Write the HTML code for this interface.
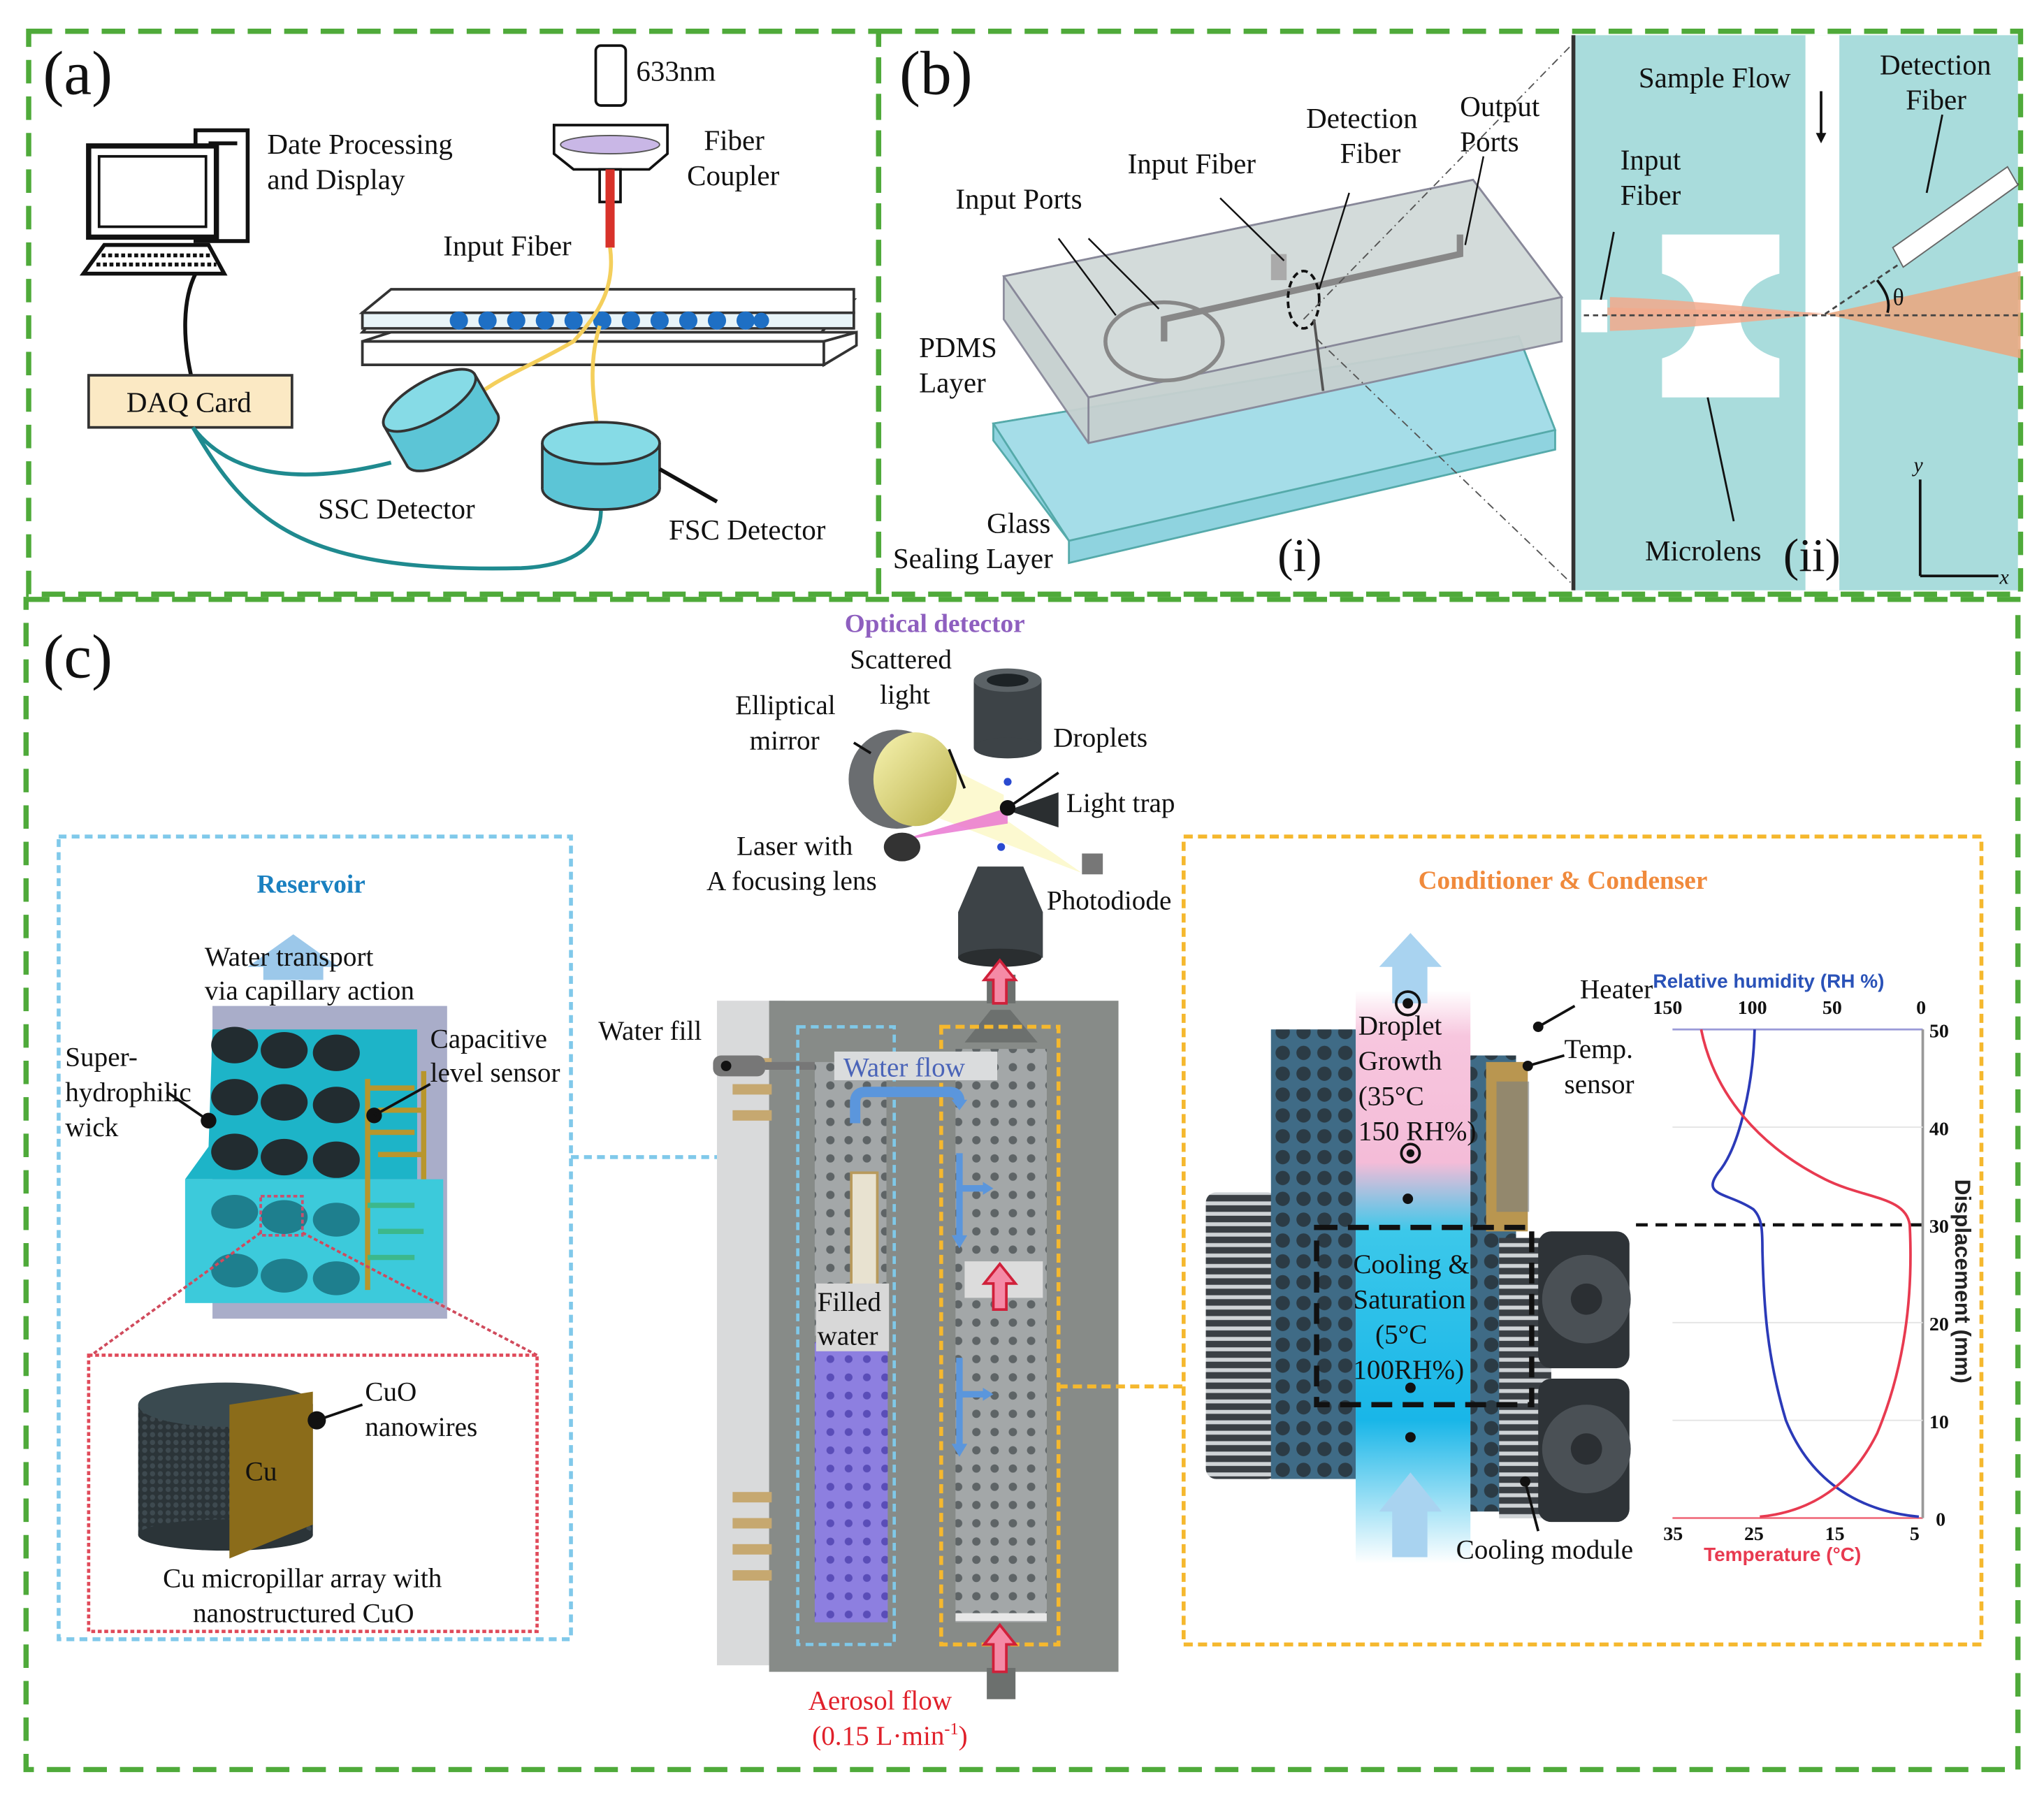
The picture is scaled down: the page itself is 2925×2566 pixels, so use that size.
<!DOCTYPE html>
<html><head><meta charset="utf-8"><style>
html,body{margin:0;padding:0;background:#fff}
svg{display:block}
text{font-family:"Liberation Serif",serif;fill:#111}
.s{font-family:"Liberation Sans",sans-serif;font-weight:bold}
</style></head><body>
<svg width="2925" height="2566" viewBox="0 0 1568 1376" preserveAspectRatio="none" xmlns="http://www.w3.org/2000/svg">
<defs>
<pattern id="dots" x="0" y="0" width="14" height="14" patternUnits="userSpaceOnUse"><rect width="14" height="14" fill="#a3a7a8"/><circle cx="7" cy="7" r="3.2" fill="#5e6466"/></pattern>
<pattern id="dotsP" x="0" y="0" width="14" height="14" patternUnits="userSpaceOnUse"><rect width="14" height="14" fill="#8d7fe0"/><circle cx="7" cy="7" r="3" fill="#5a4db8"/></pattern>
<pattern id="sink" x="0" y="0" width="16" height="16" patternUnits="userSpaceOnUse"><rect width="16" height="16" fill="#3f6b86"/><circle cx="8" cy="8" r="5.5" fill="#2b3b45"/></pattern>
<pattern id="fins" x="0" y="0" width="8" height="8" patternUnits="userSpaceOnUse"><rect width="8" height="8" fill="#3a3f44"/><rect x="0" y="2" width="8" height="3" fill="#cfd3d6"/></pattern>
<pattern id="mesh" x="0" y="0" width="6" height="6" patternUnits="userSpaceOnUse"><rect width="6" height="6" fill="#2b3438"/><circle cx="3" cy="3" r="2" fill="#3e4a50"/></pattern>
<linearGradient id="col" x1="0" y1="0" x2="0" y2="1"><stop offset="0" stop-color="#fff"/><stop offset="0.08" stop-color="#f7c6de"/><stop offset="0.3" stop-color="#f4bcd8"/><stop offset="0.42" stop-color="#3cc8ea"/><stop offset="0.75" stop-color="#19b6e8"/><stop offset="1" stop-color="#fff"/></linearGradient>
<linearGradient id="mir" x1="0" y1="0" x2="1" y2="1"><stop offset="0" stop-color="#f7f3b0"/><stop offset="1" stop-color="#b9b04a"/></linearGradient>
</defs>

<!-- green dashed frames -->
<g fill="none" stroke="#4faa3a" stroke-width="4" stroke-dasharray="18,10">
<rect x="22" y="24" width="652" height="432"/>
<rect x="674" y="24" width="876" height="432"/>
<rect x="20" y="460" width="1528" height="898"/>
</g>

<!-- ================= Panel (a) ================= -->
<text x="33" y="72" font-size="48">(a)</text>
<!-- computer -->
<rect x="150" y="100" width="40" height="85" fill="#fff" stroke="#111" stroke-width="3"/>
<line x1="160" y1="110" x2="182" y2="110" stroke="#111" stroke-width="3"/>
<rect x="68" y="112" width="98" height="70" fill="#fff" stroke="#111" stroke-width="4"/>
<rect x="76" y="120" width="82" height="54" fill="#fff" stroke="#111" stroke-width="2"/>
<polygon points="80,188 160,188 172,210 64,210" fill="#fff" stroke="#111" stroke-width="3"/>
<line x1="78" y1="196" x2="162" y2="196" stroke="#111" stroke-width="3" stroke-dasharray="3,2"/>
<line x1="74" y1="203" x2="166" y2="203" stroke="#111" stroke-width="3" stroke-dasharray="3,2"/>
<path d="M150,210 C140,230 140,260 147,290" stroke="#111" stroke-width="3" fill="none"/>
<text x="205" y="118" font-size="22">Date Processing</text>
<text x="205" y="145" font-size="22">and Display</text>
<!-- laser -->
<rect x="457" y="35" width="23" height="46" rx="4" fill="#fff" stroke="#111" stroke-width="2"/>
<text x="488" y="62" font-size="22">633nm</text>
<polygon points="425,96 512,96 512,118 498,130 440,130 425,118" fill="#fff" stroke="#111" stroke-width="2"/>
<ellipse cx="468" cy="111" rx="38" ry="7" fill="#c9b7e6" stroke="#555"/>
<rect x="460" y="130" width="16" height="25" fill="#fff" stroke="#111" stroke-width="2"/>
<line x1="468" y1="130" x2="468" y2="190" stroke="#d8322a" stroke-width="7"/>
<text x="540" y="115" font-size="22">Fiber</text>
<text x="527" y="142" font-size="22">Coupler</text>
<text x="340" y="196" font-size="22">Input Fiber</text>
<!-- slides -->
<polygon points="278,255 630,255 655,230 300,230" fill="#fff" stroke="#333" stroke-width="2"/>
<polygon points="278,240 655,240 655,252 278,252" fill="#e8f4f8" stroke="#333" stroke-width="2"/>
<polygon points="300,222 655,222 655,240 278,240" fill="#fff" stroke="#333" stroke-width="2"/>
<polygon points="278,262 632,262 657,255 300,255" fill="#fff" stroke="#333" stroke-width="2"/>
<polygon points="278,262 632,262 632,280 278,280" fill="#fff" stroke="#333" stroke-width="2"/>
<polygon points="632,262 657,255 657,265 632,280" fill="#fff" stroke="#333" stroke-width="2"/>
<g fill="#1e6fc4">
<circle cx="352" cy="246" r="7"/><circle cx="374" cy="246" r="7"/><circle cx="396" cy="246" r="7"/><circle cx="418" cy="246" r="7"/><circle cx="440" cy="246" r="7"/><circle cx="462" cy="246" r="7"/><circle cx="484" cy="246" r="7"/><circle cx="506" cy="246" r="7"/><circle cx="528" cy="246" r="7"/><circle cx="550" cy="246" r="7"/><circle cx="572" cy="246" r="7"/><circle cx="584" cy="246" r="6"/>
</g>
<path d="M468,190 C472,220 460,240 440,262 C400,285 380,290 358,310" stroke="#f4cf5c" stroke-width="3" fill="none"/>
<path d="M460,250 C448,290 460,320 458,340" stroke="#f4cf5c" stroke-width="3" fill="none"/>
<!-- DAQ -->
<rect x="68" y="288" width="156" height="40" fill="#fbe9c4" stroke="#333" stroke-width="2"/>
<text x="97" y="316" font-size="22">DAQ Card</text>
<!-- SSC -->
<g transform="rotate(-30 338 322)">
<rect x="298" y="305" width="80" height="35" fill="#5cc5d6" stroke="#333" stroke-width="2"/>
<ellipse cx="338" cy="305" rx="40" ry="15" fill="#7ed6e3" stroke="#333" stroke-width="2"/>
<ellipse cx="338" cy="340" rx="40" ry="15" fill="#5cc5d6" stroke="#333" stroke-width="2"/>
<rect x="299" y="305" width="78" height="34" fill="#5cc5d6"/>
<ellipse cx="338" cy="305" rx="40" ry="15" fill="#86dbe6" stroke="#333" stroke-width="2"/>
</g>
<text x="244" y="398" font-size="22">SSC Detector</text>
<!-- FSC -->
<ellipse cx="461" cy="375" rx="45" ry="16" fill="#5cc5d6" stroke="#333" stroke-width="2"/>
<rect x="416" y="340" width="90" height="35" fill="#5cc5d6"/>
<line x1="416" y1="340" x2="416" y2="375" stroke="#333" stroke-width="2"/>
<line x1="506" y1="340" x2="506" y2="375" stroke="#333" stroke-width="2"/>
<ellipse cx="461" cy="340" rx="45" ry="16" fill="#86dbe6" stroke="#333" stroke-width="2"/>
<line x1="506" y1="360" x2="550" y2="385" stroke="#111" stroke-width="3"/>
<text x="513" y="414" font-size="22">FSC Detector</text>
<!-- cables -->
<path d="M148,328 C180,370 240,370 300,355" stroke="#1f8a8f" stroke-width="3" fill="none"/>
<path d="M148,328 C190,400 230,440 400,436 C440,434 460,420 461,392" stroke="#1f8a8f" stroke-width="3" fill="none"/>

<!-- ================= Panel (b) ================= -->
<text x="690" y="72" font-size="48">(b)</text>
<!-- glass -->
<polygon points="762,325 1165,258 1193,330 1193,345 820,432 820,415 762,338" fill="#8fd3df" stroke="#5aa" stroke-width="1.5"/>
<polygon points="762,325 1165,258 1193,330 820,415" fill="#a5dde8" stroke="#5aa" stroke-width="1.5"/>
<!-- pdms -->
<polygon points="770,212 1130,138 1198,228 1198,262 835,340 770,245" fill="#c6d0cf" stroke="#889" stroke-width="1.5" opacity="0.95"/>
<polygon points="770,212 1130,138 1198,228 835,305" fill="#d3dbda" stroke="#889" stroke-width="1.5"/>
<line x1="835" y1="305" x2="835" y2="340" stroke="#889" stroke-width="1.5"/>
<ellipse cx="893" cy="262" rx="45" ry="30" fill="none" stroke="#888" stroke-width="3"/>
<path d="M893,262 L893,245 L1120,195 L1120,180" stroke="#888" stroke-width="5" fill="none"/>
<rect x="975" y="195" width="12" height="20" fill="#aaa"/>
<ellipse cx="1000" cy="230" rx="12" ry="22" fill="none" stroke="#111" stroke-width="2" stroke-dasharray="5,3"/>
<line x1="1008" y1="245" x2="1015" y2="300" stroke="#555" stroke-width="2"/>
<g stroke="#111" stroke-width="1.3">
<line x1="812" y1="183" x2="856" y2="242"/><line x1="835" y1="183" x2="889" y2="237"/>
<line x1="936" y1="152" x2="985" y2="200"/><line x1="1035" y1="148" x2="1012" y2="222"/>
<line x1="1138" y1="120" x2="1124" y2="188"/>
</g>
<line x1="1000" y1="245" x2="1210" y2="30" stroke="#555" stroke-width="1" stroke-dasharray="6,3,1,3"/>
<line x1="1010" y1="260" x2="1210" y2="452" stroke="#555" stroke-width="1" stroke-dasharray="6,3,1,3"/>
<text x="733" y="160" font-size="22">Input Ports</text>
<text x="865" y="133" font-size="22">Input Fiber</text>
<text x="1002" y="98" font-size="22">Detection</text>
<text x="1028" y="125" font-size="22">Fiber</text>
<text x="1120" y="89" font-size="22">Output</text>
<text x="1120" y="116" font-size="22">Ports</text>
<text x="705" y="274" font-size="22">PDMS</text>
<text x="705" y="301" font-size="22">Layer</text>
<text x="757" y="409" font-size="22">Glass</text>
<text x="685" y="436" font-size="22">Sealing Layer</text>
<text x="980" y="438" font-size="36">(i)</text>
<!-- (ii) -->
<rect x="1207" y="27" width="341" height="426" fill="#a9dcdc"/>
<line x1="1207" y1="27" x2="1207" y2="453" stroke="#333" stroke-width="3"/>
<rect x="1385" y="27" width="26" height="426" fill="#fff"/>
<path d="M1275,180 L1365,180 L1365,210 C1325,220 1325,265 1365,275 L1365,305 L1275,305 L1275,275 C1310,265 1310,220 1275,210 Z" fill="#fff"/>
<polygon points="1233,242 1400,240 1233,236" fill="#f0a88a" opacity="0.8"/>
<path d="M1235,228 C1300,230 1360,238 1400,241 C1360,245 1300,252 1235,254 Z" fill="#f2a98c" opacity="0.85"/>
<polygon points="1400,241 1550,208 1550,275" fill="#e8a882" opacity="0.9"/>
<rect x="1213" y="230" width="20" height="25" fill="#fff"/>
<line x1="1215" y1="242" x2="1550" y2="242" stroke="#444" stroke-width="1.5" stroke-dasharray="4,3"/>
<line x1="1400" y1="241" x2="1550" y2="140" stroke="#444" stroke-width="1.5" stroke-dasharray="4,3"/>
<polygon points="1452,190 1540,128 1548,142 1460,205" fill="#fff" stroke="#666"/>
<path d="M1440,215 C1448,225 1450,232 1448,240" stroke="#111" stroke-width="2" fill="none"/>
<text x="1452" y="234" font-size="18">θ</text>
<line x1="1397" y1="70" x2="1397" y2="108" stroke="#111" stroke-width="2"/>
<polygon points="1393,102 1401,102 1397,110" fill="#111"/>
<line x1="1238" y1="178" x2="1228" y2="230" stroke="#111" stroke-width="1.5"/>
<line x1="1490" y1="88" x2="1478" y2="148" stroke="#111" stroke-width="1.5"/>
<line x1="1310" y1="305" x2="1330" y2="400" stroke="#111" stroke-width="1.5"/>
<text x="1257" y="67" font-size="22">Sample Flow</text>
<text x="1442" y="57" font-size="22">Detection</text>
<text x="1462" y="84" font-size="22">Fiber</text>
<text x="1243" y="130" font-size="22">Input</text>
<text x="1243" y="157" font-size="22">Fiber</text>
<text x="1262" y="430" font-size="22">Microlens</text>
<text x="1368" y="438" font-size="36">(ii)</text>
<line x1="1473" y1="442" x2="1473" y2="368" stroke="#111" stroke-width="2"/>
<line x1="1473" y1="442" x2="1533" y2="442" stroke="#111" stroke-width="2"/>
<text x="1468" y="362" font-size="16" font-style="italic">y</text>
<text x="1534" y="448" font-size="16" font-style="italic">x</text>

<!-- ================= Panel (c) ================= -->
<text x="33" y="520" font-size="48">(c)</text>
<!-- Reservoir box -->
<rect x="45" y="642" width="393" height="616" fill="none" stroke="#80c9ea" stroke-width="3" stroke-dasharray="6,4"/>
<text x="197" y="685" font-size="20" fill="#1a80c0" style="fill:#1a80c0;font-weight:bold">Reservoir</text>
<polygon points="190,742 225,717 260,742 248,742 248,752 202,752 202,742" fill="#9cc8ea"/>
<rect x="163" y="772" width="180" height="240" fill="#a9adc9"/>
<path d="M163,790 L320,790 L320,905 L142,905 L160,880 Z" fill="#1db4c8"/>
<rect x="142" y="905" width="198" height="95" fill="#3ccadb"/>
<g fill="#222c30">
<ellipse cx="180" cy="802" rx="18" ry="14"/><ellipse cx="218" cy="806" rx="18" ry="14"/><ellipse cx="258" cy="808" rx="18" ry="14"/>
<ellipse cx="180" cy="842" rx="18" ry="14"/><ellipse cx="218" cy="846" rx="18" ry="14"/><ellipse cx="258" cy="848" rx="18" ry="14"/>
<ellipse cx="180" cy="884" rx="18" ry="14"/><ellipse cx="218" cy="888" rx="18" ry="14"/><ellipse cx="258" cy="890" rx="18" ry="14"/>
</g>
<g fill="#1e7f8e">
<ellipse cx="180" cy="930" rx="18" ry="13"/><ellipse cx="218" cy="934" rx="18" ry="13"/><ellipse cx="258" cy="936" rx="18" ry="13"/>
<ellipse cx="180" cy="975" rx="18" ry="13"/><ellipse cx="218" cy="979" rx="18" ry="13"/><ellipse cx="258" cy="981" rx="18" ry="13"/>
</g>
<g stroke="#b8962c" stroke-width="4" fill="none">
<path d="M282,828 L282,990 M325,822 L325,905 M282,835 L318,835 M290,852 L325,852 M282,869 L318,869 M290,886 L325,886"/>
</g>
<g stroke="#3cb88c" stroke-width="4"><path d="M282,925 L318,925 M290,945 L325,945 M282,965 L318,965"/></g>
<rect x="200" y="918" width="32" height="30" fill="none" stroke="#c8506e" stroke-width="2" stroke-dasharray="3,2"/>
<line x1="200" y1="946" x2="70" y2="1040" stroke="#d04a5c" stroke-width="2" stroke-dasharray="3,2"/>
<line x1="232" y1="946" x2="412" y2="1040" stroke="#d04a5c" stroke-width="2" stroke-dasharray="3,2"/>
<rect x="68" y="1040" width="344" height="212" fill="none" stroke="#e04a5a" stroke-width="2.5" stroke-dasharray="3,2"/>
<circle cx="160" cy="860" r="6" fill="#111"/><line x1="160" y1="860" x2="128" y2="838" stroke="#111" stroke-width="2"/>
<circle cx="287" cy="856" r="6" fill="#111"/><line x1="287" y1="856" x2="330" y2="832" stroke="#111" stroke-width="2"/>
<text x="157" y="741" font-size="21">Water transport</text>
<text x="157" y="767" font-size="21">via capillary action</text>
<text x="50" y="818" font-size="21">Super-</text>
<text x="50" y="845" font-size="21">hydrophilic</text>
<text x="50" y="872" font-size="21">wick</text>
<text x="330" y="804" font-size="21">Capacitive</text>
<text x="330" y="830" font-size="21">level sensor</text>
<!-- cylinder -->
<rect x="106" y="1078" width="134" height="100" fill="url(#mesh)"/>
<ellipse cx="173" cy="1178" rx="67" ry="12" fill="#2b3438"/>
<ellipse cx="173" cy="1078" rx="67" ry="17" fill="#3a4a50"/>
<polygon points="176,1078 240,1068 240,1170 176,1196" fill="#8b6c1a"/>
<text x="188" y="1136" font-size="21">Cu</text>
<circle cx="243" cy="1090" r="7" fill="#111"/><line x1="243" y1="1090" x2="278" y2="1078" stroke="#111" stroke-width="2"/>
<text x="280" y="1075" font-size="21">CuO</text>
<text x="280" y="1102" font-size="21">nanowires</text>
<text x="125" y="1218" font-size="21">Cu micropillar array with</text>
<text x="148" y="1245" font-size="21">nanostructured CuO</text>
<line x1="438" y1="888" x2="612" y2="888" stroke="#80c9ea" stroke-width="3" stroke-dasharray="6,4"/>

<!-- Optical detector -->
<text x="648" y="485" font-size="20" style="fill:#8e5fbf;font-weight:bold">Optical detector</text>
<text x="652" y="513" font-size="21">Scattered</text>
<text x="675" y="540" font-size="21">light</text>
<text x="564" y="548" font-size="21">Elliptical</text>
<text x="575" y="575" font-size="21">mirror</text>
<text x="808" y="573" font-size="21">Droplets</text>
<text x="818" y="623" font-size="21">Light trap</text>
<text x="565" y="656" font-size="21">Laser with</text>
<text x="542" y="683" font-size="21">A focusing lens</text>
<text x="803" y="698" font-size="21">Photodiode</text>
<polygon points="700,575 770,610 770,628 830,670 700,620" fill="#fbf7c4" opacity="0.8"/>
<ellipse cx="688" cy="598" rx="37" ry="38" fill="#6a6d70"/>
<ellipse cx="702" cy="598" rx="32" ry="36" fill="url(#mir)"/>
<rect x="747" y="522" width="52" height="52" fill="#3d4347"/>
<ellipse cx="773" cy="522" rx="26" ry="9" fill="#5b6266"/><ellipse cx="773" cy="522" rx="16" ry="5" fill="#1d2326"/>
<ellipse cx="773" cy="574" rx="26" ry="8" fill="#3d4347"/>
<polygon points="690,645 773,620 773,632" fill="#e86fd0" opacity="0.8"/>
<ellipse cx="692" cy="650" rx="14" ry="11" fill="#333"/>
<polygon points="773,622 812,608 812,635" fill="#2a2e30"/>
<circle cx="773" cy="620" r="6" fill="#111"/><line x1="773" y1="620" x2="812" y2="593" stroke="#111" stroke-width="2"/>
<circle cx="773" cy="600" r="3" fill="#2a4ad0"/><circle cx="768" cy="650" r="3" fill="#2a4ad0"/>
<rect x="830" y="655" width="16" height="16" fill="#777"/>
<line x1="740" y1="605" x2="728" y2="575" stroke="#111" stroke-width="2"/>
<line x1="668" y1="578" x2="655" y2="570" stroke="#111" stroke-width="2"/>
<polygon points="750,665 785,665 800,700 800,735 735,735 735,700" fill="#3d4347"/>
<ellipse cx="767" cy="735" rx="32" ry="7" fill="#2a2e30"/>

<!-- central device -->
<rect x="550" y="768" width="52" height="510" fill="#d9dadb"/>
<rect x="590" y="768" width="268" height="515" fill="#878b88"/>
<rect x="757" y="748" width="22" height="22" fill="#6c706e"/>
<rect x="757" y="1280" width="22" height="24" fill="#6c706e"/>
<polygon points="740,800 796,800 775,775 760,775" fill="#6c706e"/>
<g fill="#c6a870"><rect x="562" y="812" width="30" height="8"/><rect x="562" y="832" width="30" height="8"/><rect x="562" y="852" width="30" height="8"/><rect x="562" y="1145" width="30" height="8"/><rect x="562" y="1165" width="30" height="8"/><rect x="562" y="1185" width="30" height="8"/><rect x="562" y="1205" width="30" height="8"/></g>
<rect x="547" y="810" width="40" height="16" rx="6" fill="#777"/>
<line x1="587" y1="818" x2="640" y2="818" stroke="#777" stroke-width="6"/>
<circle cx="557" cy="818" r="4" fill="#111"/>
<rect x="625" y="815" width="55" height="210" fill="url(#dots)"/>
<rect x="653" y="900" width="20" height="125" fill="#e8e2d0" stroke="#b89a5c" stroke-width="2"/>
<rect x="625" y="1030" width="56" height="215" fill="url(#dotsP)"/>
<rect x="733" y="805" width="70" height="440" fill="url(#dots)"/>
<rect x="740" y="968" width="60" height="28" fill="#dcdcdc"/>
<rect x="733" y="1238" width="70" height="6" fill="#e8e8e8"/>
<rect x="612" y="788" width="74" height="474" fill="none" stroke="#7fc8e8" stroke-width="2.5" stroke-dasharray="6,4"/>
<rect x="722" y="788" width="90" height="474" fill="none" stroke="#f5b82e" stroke-width="3" stroke-dasharray="7,4"/>
<rect x="640" y="807" width="125" height="22" fill="#dadcdd"/>
<text x="647" y="826" font-size="21" style="fill:#4a64b8">Water flow</text>
<rect x="626" y="985" width="56" height="52" fill="#d8d8d8"/>
<text x="627" y="1006" font-size="21">Filled</text>
<text x="627" y="1032" font-size="21">water</text>
<path d="M656,862 L656,846 Q656,838 664,838 L728,838 Q736,838 736,846" stroke="#5b96dc" stroke-width="8" fill="none"/>
<polygon points="730,844 742,844 736,852" fill="#5b96dc"/>
<g stroke="#5b96dc" stroke-width="5" fill="#5b96dc">
<line x1="736" y1="885" x2="736" y2="950"/><line x1="736" y1="912" x2="755" y2="912"/>
<line x1="736" y1="1042" x2="736" y2="1110"/><line x1="736" y1="1070" x2="755" y2="1070"/>
</g>
<g fill="#5b96dc"><polygon points="730,948 742,948 736,958"/><polygon points="754,907 762,912 754,917"/><polygon points="730,1108 742,1108 736,1118"/><polygon points="754,1065 762,1070 754,1075"/></g>
<g fill="#f58aa6" stroke="#d0203a" stroke-width="2">
<polygon points="762,770 762,752 755,752 767,737 779,752 772,752 772,770"/>
<polygon points="762,1005 762,985 755,985 767,970 779,985 772,985 772,1005"/>
<polygon points="762,1283 762,1262 755,1262 767,1247 779,1262 772,1262 772,1283"/>
</g>
<text x="459" y="798" font-size="21">Water fill</text>
<text x="620" y="1312" font-size="21" style="fill:#e0202a">Aerosol flow</text>
<text x="623" y="1339" font-size="21" style="fill:#e0202a">(0.15 L·min<tspan font-size="13" dy="-8">-1</tspan><tspan dy="8">)</tspan></text>
<line x1="812" y1="1064" x2="908" y2="1064" stroke="#f5b82e" stroke-width="3" stroke-dasharray="7,4"/>

<!-- Conditioner -->
<rect x="908" y="642" width="612" height="620" fill="none" stroke="#f5b82e" stroke-width="3" stroke-dasharray="7,4"/>
<text x="1088" y="682" font-size="20" style="fill:#f08a3c;font-weight:bold">Conditioner &amp; Condenser</text>
<rect x="1040" y="760" width="88" height="440" fill="url(#col)"/>
<polygon points="1058,742 1082,716 1106,742 1095,742 1095,770 1068,770 1068,742" fill="#a9d3f0"/>
<polygon points="1058,1160 1082,1130 1106,1160 1095,1160 1095,1195 1068,1195 1068,1160" fill="#a9d3f0"/>
<rect x="925" y="915" width="55" height="220" fill="url(#fins)" rx="8"/>
<rect x="975" y="790" width="65" height="345" fill="url(#sink)"/>
<rect x="1128" y="810" width="35" height="350" fill="url(#sink)"/>
<rect x="1140" y="815" width="32" height="130" fill="#b99650"/>
<rect x="1148" y="830" width="25" height="100" fill="#7a7e80" opacity="0.6"/>
<rect x="1150" y="950" width="40" height="215" fill="url(#fins)"/>
<rect x="1180" y="945" width="70" height="105" rx="10" fill="#2e3337"/>
<circle cx="1217" cy="997" r="34" fill="#4a5055"/><circle cx="1217" cy="997" r="12" fill="#2b2f33"/>
<rect x="1180" y="1058" width="70" height="110" rx="10" fill="#2e3337"/>
<circle cx="1217" cy="1112" r="34" fill="#4a5055"/><circle cx="1217" cy="1112" r="12" fill="#2b2f33"/>
<rect x="1010" y="942" width="165" height="136" fill="none" stroke="#111" stroke-width="4" stroke-dasharray="16,8"/>
<circle cx="1080" cy="770" r="9" fill="none" stroke="#111" stroke-width="2"/><circle cx="1080" cy="770" r="4" fill="#111"/>
<circle cx="1082" cy="885" r="7" fill="none" stroke="#111" stroke-width="2"/><circle cx="1082" cy="885" r="3" fill="#111"/>
<circle cx="1080" cy="920" r="4" fill="#111"/><circle cx="1082" cy="1065" r="4" fill="#111"/><circle cx="1082" cy="1103" r="4" fill="#111"/>
<circle cx="1180" cy="788" r="4" fill="#111"/><line x1="1180" y1="788" x2="1208" y2="772" stroke="#111" stroke-width="2"/>
<circle cx="1172" cy="818" r="4" fill="#111"/><line x1="1172" y1="818" x2="1200" y2="810" stroke="#111" stroke-width="2"/>
<circle cx="1170" cy="1137" r="4" fill="#111"/><line x1="1170" y1="1137" x2="1180" y2="1175" stroke="#111" stroke-width="2"/>
<text x="1042" y="794" font-size="21">Droplet</text>
<text x="1042" y="821" font-size="21">Growth</text>
<text x="1042" y="848" font-size="21">(35°C</text>
<text x="1042" y="875" font-size="21">150 RH%)</text>
<text x="1038" y="977" font-size="21">Cooling &amp;</text>
<text x="1038" y="1004" font-size="21">Saturation</text>
<text x="1055" y="1031" font-size="21">(5°C</text>
<text x="1038" y="1058" font-size="21">100RH%)</text>
<text x="1212" y="766" font-size="21">Heater</text>
<text x="1200" y="812" font-size="21">Temp.</text>
<text x="1200" y="839" font-size="21">sensor</text>
<text x="1117" y="1196" font-size="21">Cooling module</text>
<!-- graph -->
<line x1="1283" y1="790" x2="1475" y2="790" stroke="#9a9ad8" stroke-width="1.5"/>
<line x1="1283" y1="1165" x2="1475" y2="1165" stroke="#f07080" stroke-width="1.5"/>
<line x1="1475" y1="790" x2="1475" y2="1165" stroke="#999" stroke-width="2"/>
<g stroke="#e4e4e4" stroke-width="1"><line x1="1283" y1="865" x2="1475" y2="865"/><line x1="1283" y1="1015" x2="1475" y2="1015"/><line x1="1283" y1="1090" x2="1475" y2="1090"/></g>
<line x1="1255" y1="940" x2="1475" y2="940" stroke="#111" stroke-width="2.5" stroke-dasharray="9,6"/>
<path d="M1346,790 C1345,830 1335,880 1318,900 C1305,918 1325,915 1345,928 C1352,935 1352,945 1352,960 C1353,1000 1355,1040 1370,1090 C1390,1140 1430,1160 1472,1164" stroke="#2b3ab8" stroke-width="2" fill="none"/>
<path d="M1305,790 C1315,840 1350,880 1400,905 C1430,920 1462,918 1465,940 C1467,980 1465,1040 1440,1100 C1420,1140 1390,1160 1350,1164" stroke="#e83a50" stroke-width="2" fill="none"/>
<text x="1268" y="758" font-size="15" class="s" style="fill:#2a52b8">Relative humidity (RH %)</text>
<g font-size="15" class="s" style="fill:#2a52b8"><text x="1268" y="778">150</text><text x="1333" y="778">100</text><text x="1398" y="778">50</text><text x="1470" y="778">0</text></g>
<g font-size="15" class="s" style="fill:#e83a50"><text x="1276" y="1182">35</text><text x="1338" y="1182">25</text><text x="1400" y="1182">15</text><text x="1465" y="1182">5</text></g>
<text x="1307" y="1198" font-size="15" class="s" style="fill:#e83a50">Temperature (°C)</text>
<g font-size="15" class="s" style="fill:#222"><text x="1480" y="796">50</text><text x="1480" y="871">40</text><text x="1480" y="946">30</text><text x="1480" y="1021">20</text><text x="1480" y="1096">10</text><text x="1485" y="1171">0</text></g>
<text x="0" y="0" font-size="17" class="s" transform="translate(1500,905) rotate(90)" style="fill:#222">Displacement (mm)</text>
</svg>
</body></html>
